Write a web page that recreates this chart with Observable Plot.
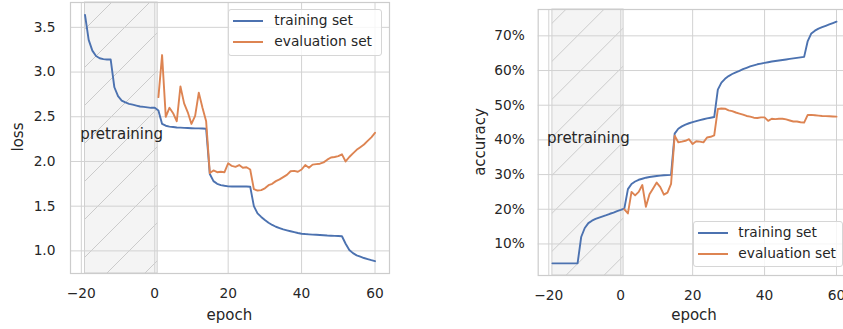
<!DOCTYPE html>
<html><head><meta charset="utf-8">
<script src="https://cdn.jsdelivr.net/npm/d3@7"></script>
<script src="https://cdn.jsdelivr.net/npm/@observablehq/plot@0.6"></script>
<style>
html,body{margin:0;padding:0;background:#fff;}
body{width:843px;height:329px;overflow:hidden;position:relative;font-family:"DejaVu Sans",sans-serif;color:#262626;}
.panel{position:absolute;top:0;width:395px;height:329px;}
.panel svg{max-width:none !important;height:329px !important;width:395px !important;display:block;}
.lab{position:absolute;font-size:15px;white-space:nowrap;line-height:1;transform:translate(-50%,-50%);}
.lab.rot{transform:translate(-50%,-50%) rotate(-90deg);}
.legend{position:absolute;background:rgba(255,255,255,0.8);border:1px solid #d6d6d6;border-radius:3px;box-sizing:border-box;font-size:13.75px;}
.legend .sw{position:absolute;height:2px;}
.legend .tx{position:absolute;line-height:1;transform:translateY(-50%);white-space:nowrap;}
</style>
</head><body>
<div id="left" class="panel" style="left:0"></div>
<div id="right" class="panel" style="left:460px"></div>
<script>
// ---------- data ----------
const trainEpochs = [-19,-18,-17,-16,-15,-14,-13,-12,-11,-10,-9,-8,-7,-6,-5,-4,-3,-2,-1,0,
  1,2,3,4,5,6,7,8,9,10,11,12,13,14,15,16,17,18,19,20,
  21,22,23,24,25,26,27,28,29,30,31,32,33,34,35,36,37,38,39,40,
  41,42,43,44,45,46,47,48,49,50,51,52,53,54,55,56,57,58,59,60];
const evalEpochs = [1,2,3,4,5,6,7,8,9,10,11,12,13,14,15,16,17,18,19,20,
  21,22,23,24,25,26,27,28,29,30,31,32,33,34,35,36,37,38,39,40,
  41,42,43,44,45,46,47,48,49,50,51,52,53,54,55,56,57,58,59,60];

const trainLoss = [3.64,3.36,3.24,3.18,3.155,3.145,3.14,3.14,2.83,2.73,2.68,2.66,2.645,2.635,2.625,2.615,2.61,2.605,2.60,2.60,
  2.57,2.42,2.40,2.39,2.385,2.38,2.378,2.376,2.374,2.372,2.37,2.37,2.368,2.366,1.86,1.78,1.75,1.735,1.728,1.722,
  1.72,1.72,1.72,1.72,1.72,1.718,1.50,1.42,1.38,1.345,1.315,1.29,1.27,1.255,1.24,1.23,1.22,1.21,1.20,1.192,
  1.188,1.185,1.182,1.18,1.178,1.175,1.172,1.17,1.168,1.166,1.164,1.08,1.01,0.975,0.95,0.935,0.92,0.908,0.896,0.885];
const evalLoss = [2.72,3.19,2.50,2.60,2.54,2.45,2.84,2.65,2.55,2.42,
  2.51,2.77,2.60,2.45,1.87,1.90,1.88,1.885,1.88,1.98,
  1.95,1.94,1.96,1.93,1.935,1.91,1.69,1.675,1.68,1.70,
  1.735,1.75,1.78,1.80,1.825,1.85,1.89,1.895,1.885,1.91,
  1.96,1.93,1.965,1.97,1.975,1.99,2.02,2.045,2.05,2.06,
  2.08,2.00,2.05,2.09,2.13,2.16,2.19,2.23,2.27,2.32];

const trainAcc = [4.4,4.4,4.4,4.4,4.4,4.4,4.4,4.4,12.0,14.6,16.0,16.7,17.2,17.6,17.95,18.3,18.7,19.05,19.45,19.8,
  20.2,25.8,27.3,28.0,28.5,28.8,29.1,29.3,29.45,29.6,29.7,29.8,29.85,29.9,41.8,43.2,43.9,44.4,44.8,45.1,
  45.4,45.7,45.95,46.2,46.4,46.6,54.5,56.5,57.6,58.4,59.0,59.5,59.9,60.4,60.8,61.2,61.5,61.8,62.0,62.2,
  62.4,62.6,62.75,62.9,63.05,63.2,63.35,63.5,63.65,63.8,63.95,68.5,70.7,71.5,72.1,72.5,72.9,73.3,73.7,74.1];
const evalAcc = [20.0,18.8,25.0,24.0,25.0,27.0,20.7,24.3,26.0,27.7,
  26.4,24.2,24.8,27.3,41.2,39.3,39.5,39.75,40.2,38.8,
  39.6,39.5,39.3,40.7,40.9,41.3,48.9,49.05,49.0,48.5,
  48.3,47.9,47.6,47.3,46.9,46.7,46.4,46.3,46.5,46.5,
  45.5,46.1,46.0,46.1,46.1,45.9,45.6,45.3,45.3,45.1,
  45.0,47.2,47.2,47.1,47.0,46.9,46.85,46.8,46.75,46.7];

const xTicks = [-20,0,20,40,60];
const lossTicks = [1.0,1.5,2.0,2.5,3.0,3.5];
const accTicks = [10,20,30,40,50,60,70];
const pretrainSpan = [{x1: -19, x2: 0.8}];
const annotLoss = [{text: "pretraining", epoch: -9, value: 2.31}];
const annotAcc = [{text: "pretraining", epoch: -9, value: 40.5}];
const seriesNames = ["training set", "evaluation set"];
const seriesColors = ["#4c72b0", "#dd8452"];

// ---------- helpers ----------
const rows = (xs, ys) => xs.map((e, i) => ({epoch: e, value: ys[i]}));
const fmtEpoch = d => d < 0 ? "\u2212" + (-d) : String(d);
const gridColor = "#d2d2d2";

function panel({el, id, phase, width, height, mL, mR, mT, mB, ydom, yTicks, yFmt, yPad, xPad, train, evalS, annot}) {
  const svg = Plot.plot({
    width, height, marginLeft: mL, marginRight: mR, marginTop: mT, marginBottom: mB,
    x: {domain: [-22.95, 63.95]},
    y: {domain: ydom},
    style: {fontFamily: "DejaVu Sans", fontSize: "13.75px", color: "#262626", background: "transparent", overflow: "visible"},
    marks: [
      Plot.rect(pretrainSpan, {x1: "x1", x2: "x2", fill: `url(#${id})`, stroke: "#cfcfcf", strokeWidth: 1}),
      Plot.gridX(xTicks, {stroke: gridColor, strokeOpacity: 1, strokeWidth: 1}),
      Plot.gridY(yTicks, {stroke: gridColor, strokeOpacity: 1, strokeWidth: 1}),
      Plot.frame({stroke: "#cccccc", strokeWidth: 1.2}),
      Plot.axisX(xTicks, {tickSize: 0, tickPadding: xPad, tickFormat: fmtEpoch, label: null, fontSize: 13.75}),
      Plot.axisY(yTicks, {tickSize: 0, tickPadding: yPad, tickFormat: yFmt, label: null, fontSize: 13.75}),
      Plot.text(annot, {x: "epoch", y: "value", text: "text", fontSize: 15, fill: "#262626"}),
      Plot.line(train, {x: "epoch", y: "value", stroke: seriesColors[0], strokeWidth: 1.9}),
      Plot.line(evalS, {x: "epoch", y: "value", stroke: seriesColors[1], strokeWidth: 1.9})
    ]
  });
  const s = d3.select(svg);
  const defs = s.insert("defs", ":first-child");
  const p = defs.append("pattern").attr("id", id).attr("patternUnits", "userSpaceOnUse")
    .attr("width", 38).attr("height", 38).attr("x", phase).attr("y", 0);
  p.append("rect").attr("width", 38).attr("height", 38).attr("fill", "#f4f4f4");
  p.append("path").attr("d", "M0,38L38,0M-5,5L5,-5M33,43L43,33")
    .attr("stroke", "#c4c4c4").attr("stroke-width", 0.85).attr("fill", "none");
  el.appendChild(svg);
}

panel({el: document.getElementById("left"), id: "hatchL", phase: 0,
  width: 395, height: 329, mL: 70, mR: 6, mT: 2, mB: 56,
  ydom: [0.747, 3.778], yTicks: lossTicks, yFmt: d => d.toFixed(1), yPad: 15, xPad: 15,
  train: rows(trainEpochs, trainLoss), evalS: rows(evalEpochs, evalLoss), annot: annotLoss});

panel({el: document.getElementById("right"), id: "hatchR", phase: 1.3,
  width: 395, height: 329, mL: 77.7, mR: 4.8, mT: 9, mB: 54,
  ydom: [0.9, 77.6], yTicks: accTicks, yFmt: d => d + "%", yPad: 13.5, xPad: 14.3,
  train: rows(trainEpochs, trainAcc), evalS: rows(evalEpochs, evalAcc), annot: annotAcc});

// ---------- axis labels ----------
function label(text, x, y, rot) {
  const d = document.createElement("div");
  d.className = "lab" + (rot ? " rot" : "");
  d.style.left = x + "px"; d.style.top = y + "px";
  d.textContent = text;
  document.body.appendChild(d);
}
label("loss", 18, 136.7, true);
label("accuracy", 479.5, 141.7, true);
label("epoch", 229.3, 315, false);
label("epoch", 694, 315, false);

// ---------- legends ----------
function legend(left, top, width, height, rowsY, swX, swW, txX) {
  const box = document.createElement("div");
  box.className = "legend";
  Object.assign(box.style, {left: left + "px", top: top + "px", width: width + "px", height: height + "px"});
  seriesNames.forEach((name, i) => {
    const sw = document.createElement("div");
    sw.className = "sw";
    Object.assign(sw.style, {left: swX + "px", width: swW + "px", top: (rowsY[i] - 1) + "px", background: seriesColors[i]});
    const tx = document.createElement("div");
    tx.className = "tx";
    Object.assign(tx.style, {left: txX + "px", top: rowsY[i] + "px"});
    tx.textContent = name;
    box.appendChild(sw); box.appendChild(tx);
  });
  document.body.appendChild(box);
}
legend(228.3, 9.3, 153.4, 46.4, [10.4, 32], 4, 30, 45);
legend(693.3, 221, 150, 45.7, [11.3, 32.3], 4, 29.4, 44);
</script>
</body></html>
